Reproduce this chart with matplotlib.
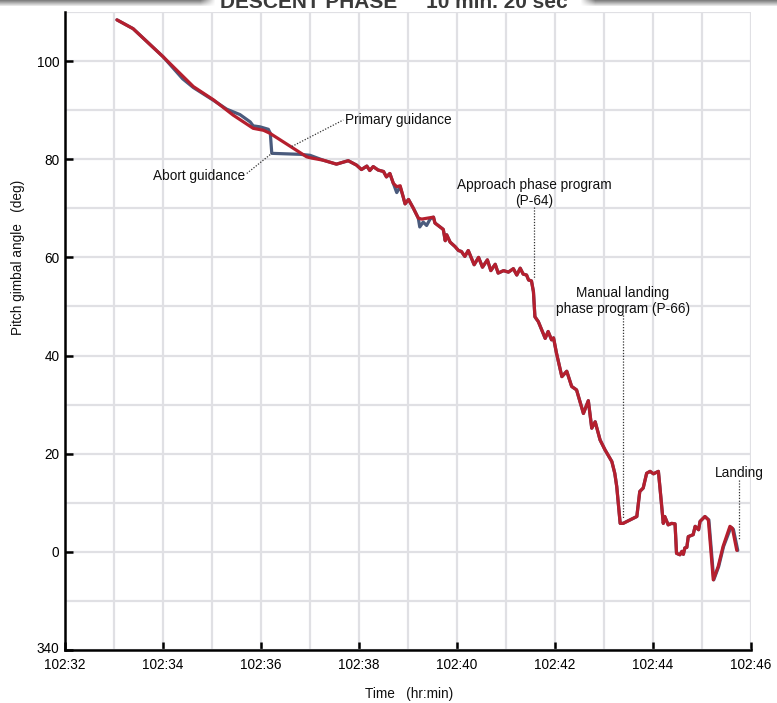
import numpy as np
import matplotlib
matplotlib.use("Agg")
import matplotlib.pyplot as plt
import matplotlib.transforms as mtransforms

plt.rcParams['font.family'] = ['Liberation Sans', 'DejaVu Sans']

# ---- data: time in minutes after 102:32, pitch gimbal angle in degrees ----
primary_t = [1.06, 1.39, 2.00, 2.62, 3.03, 3.43, 3.84, 4.05, 4.18, 4.93, 5.00, 5.27, 5.54,
             5.78, 5.95, 6.05, 6.16, 6.22, 6.29, 6.39, 6.50, 6.56, 6.63, 6.70, 6.77, 6.84,
             6.90, 6.94, 7.01, 7.11, 7.21, 7.28, 7.52, 7.55, 7.72, 7.76, 7.79, 7.86, 7.96,
             8.03, 8.09, 8.16, 8.23, 8.35, 8.44, 8.52, 8.62, 8.69, 8.78, 8.84, 8.95, 9.05,
             9.15, 9.22, 9.29, 9.35, 9.42, 9.46, 9.52, 9.56, 9.59, 9.66, 9.73, 9.80, 9.86,
             9.93, 9.97, 10.03, 10.14, 10.24, 10.34, 10.44, 10.58, 10.68, 10.75, 10.82,
             10.92, 11.02, 11.16, 11.22, 11.26, 11.33, 11.39, 11.67, 11.73, 11.80, 11.87,
             11.94, 12.01, 12.11, 12.14, 12.21, 12.24, 12.31, 12.38, 12.45, 12.48, 12.55,
             12.59, 12.62, 12.65, 12.69, 12.72, 12.82, 12.86, 12.93, 12.96, 13.06, 13.13,
             13.23, 13.33, 13.43, 13.57, 13.62, 13.71]
primary_v = [108.4, 106.6, 100.9, 94.8, 92.1, 89.0, 86.3, 85.9, 85.3, 80.5, 80.3, 79.8, 79.0,
             79.7, 78.8, 77.9, 78.6, 77.7, 78.5, 77.8, 77.5, 76.4, 77.1, 75.1, 74.4, 74.6,
             72.4, 70.9, 71.8, 70.0, 68.0, 67.8, 68.2, 67.0, 65.7, 63.4, 64.6, 63.1, 62.2,
             61.4, 61.2, 60.2, 61.4, 58.5, 60.0, 58.0, 59.5, 57.3, 58.6, 56.8, 57.3, 57.0,
             57.7, 56.4, 57.8, 56.6, 56.4, 55.4, 55.2, 53.0, 47.9, 46.9, 45.2, 43.5, 44.9,
             43.2, 43.6, 40.5, 35.7, 36.8, 33.7, 33.0, 28.2, 30.8, 25.2, 26.5,
             22.8, 20.8, 18.4, 16.0, 13.3, 5.8, 5.8, 7.2, 12.3, 13.0, 16.0,
             16.4, 15.9, 16.4, 13.3, 5.8, 7.2, 5.5, 5.8, 5.7, -0.3, -0.6,
             0.1, -0.5, 0.8, 0.9, 3.1, 3.5, 5.2, 4.5, 6.2, 7.2, 6.5,
             -5.7, -3.0, 1.1, 5.2, 4.8, 0.3]

abort_t = [1.06, 1.39, 2.00, 2.40, 2.62, 3.03, 3.30, 3.57, 3.78, 3.84, 3.98, 4.15, 4.19,
           4.22, 4.80, 5.00, 5.27, 5.54, 5.78, 5.95, 6.05, 6.16, 6.22, 6.29, 6.39, 6.50,
           6.56, 6.63, 6.70, 6.77, 6.84, 6.90, 6.94, 7.01, 7.11, 7.21, 7.24, 7.31, 7.38,
           7.45, 7.52, 7.55, 7.72, 7.76, 7.79, 7.86, 7.96, 8.03, 8.09, 8.16, 8.23, 8.35,
           8.44, 8.52, 8.62, 8.69, 8.78, 8.84, 8.95, 9.05, 9.15, 9.22, 9.29, 9.35, 9.42,
           9.46, 9.52, 9.56, 9.59, 9.66, 9.73, 9.80, 9.86, 9.93, 9.97, 10.03, 10.14,
           10.24, 10.34, 10.44, 10.58, 10.68, 10.75, 10.82, 10.92, 11.02, 11.16, 11.22,
           11.26, 11.33, 11.39, 11.67, 11.73, 11.80, 11.87, 11.94, 12.01, 12.11, 12.14,
           12.21, 12.24, 12.31, 12.38, 12.45, 12.48, 12.55, 12.59, 12.62, 12.65, 12.69,
           12.72, 12.82, 12.86, 12.93, 12.96, 13.06, 13.14, 13.24, 13.34, 13.44, 13.59,
           13.64, 13.73]
abort_v = [108.4, 106.6, 100.9, 96.4, 94.6, 92.0, 90.2, 89.1, 87.6, 86.8, 86.6, 86.1, 85.3,
           81.2, 81.0, 80.8, 79.8, 79.0, 79.7, 78.8, 77.9, 78.6, 77.7, 78.5, 77.8, 77.5,
           76.4, 77.1, 75.1, 73.2, 74.4, 72.4, 70.9, 71.8, 70.0, 68.0, 66.2, 67.2, 66.5,
           67.8, 68.2, 67.0, 65.7, 63.4, 64.6, 63.1, 62.2, 61.4, 61.2, 60.2, 61.4, 58.5,
           60.0, 58.0, 59.5, 57.3, 58.6, 56.8, 57.3, 57.0, 57.7, 56.4, 57.8, 56.6, 56.4,
           55.4, 55.2, 53.0, 47.9, 46.9, 45.2, 43.5, 44.9, 43.2, 43.6, 40.5, 35.7,
           36.8, 33.7, 33.0, 28.2, 30.8, 25.2, 26.5, 22.8, 20.8, 18.4, 16.0,
           13.3, 5.8, 5.8, 7.2, 12.3, 13.0, 16.0, 16.4, 15.9, 16.4, 13.3,
           5.8, 7.2, 5.5, 5.8, 5.7, -0.3, -0.6, 0.1, -0.5, 0.8, 0.9,
           3.1, 3.5, 5.2, 4.5, 6.2, 7.2, 6.5, -5.7, -3.0, 1.1, 5.0,
           4.6, 0.3]

x_ticks = [0, 2, 4, 6, 8, 10, 12, 14]
x_tick_labels = ["102:32", "102:34", "102:36", "102:38", "102:40", "102:42", "102:44", "102:46"]
y_ticks = [-20, 0, 20, 40, 60, 80, 100]
y_tick_labels = ["340", "0", "20", "40", "60", "80", "100"]

# annotations: (text, text x, text y, ha, line x0, y0, x1, y1)
annotations = [
    ("Primary guidance", 5.71, 87.2, "left", 4.63, 82.6, 5.68, 88.0),
    ("Abort guidance", 3.67, 75.8, "right", 3.71, 77.1, 4.22, 81.2),
    ("Approach phase program\n(P-64)", 9.57, 70.7, "center", 9.57, 70.3, 9.57, 55.5),
    ("Manual landing\nphase program (P-66)", 11.38, 48.7, "center", 11.38, 48.3, 11.38, 6.9),
    ("Landing", 13.76, 15.3, "center", 13.76, 14.6, 13.76, 2.4),
]

W, H = 777, 703
fig = plt.figure(figsize=(W / 100, H / 100), dpi=100)
ax = fig.add_axes([65 / W, 1 - 650 / H, (751 - 65) / W, (650 - 12) / H])

red = "#b51f2e"
blue = "#4a5b7d"
ax.plot(abort_t, abort_v, color=blue, lw=2.3, solid_joinstyle="round", solid_capstyle="round", zorder=3)
ax.plot(primary_t, primary_v, color=red, lw=2.3, solid_joinstyle="round", solid_capstyle="round", zorder=4)

ax.set_xlim(0, 14)
ax.set_ylim(-20, 110)
ax.set_xticks(x_ticks)
ax.set_xticklabels(x_tick_labels)
ax.set_xticks(np.arange(1, 15, 2), minor=True)
ax.set_yticks(y_ticks)
ax.set_yticklabels(y_tick_labels)
ax.set_yticks(np.arange(-10, 111, 20), minor=True)

ax.grid(which="both", color="#e0e0e4", lw=1.6)
ax.set_axisbelow(True)
for s in ["top", "right"]:
    ax.spines[s].set_visible(False)
for s in ["left", "bottom"]:
    ax.spines[s].set_linewidth(1.8)
    ax.spines[s].set_color("black")
    ax.spines[s].set_zorder(5)
ax.tick_params(which="major", direction="in", length=6, width=1.8, color="black",
               labelsize=9.8)
ax.tick_params(axis="x", which="major", pad=5.5)
ax.tick_params(axis="y", which="major", pad=4)
ax.tick_params(which="minor", length=0)
lab340 = ax.get_yticklabels()[0]
lab340.set_transform(lab340.get_transform() +
                     mtransforms.ScaledTranslation(0, 2.5 / 100, fig.dpi_scale_trans))

for txt, tx, ty, ha, x0, y0, x1, y1 in annotations:
    ax.text(tx, ty, txt, ha=ha, va="baseline", fontsize=9.8, color="#111111",
            multialignment="center", linespacing=1.2, zorder=6)
    ax.plot([x0, x1], [y0, y1], color="#333333", lw=0.9, linestyle=(0, (1, 1.3)), zorder=6)

fig.text(18 / W, 1 - 257 / H, "Pitch gimbal angle   (deg)", rotation=90, ha="center",
         va="center", fontsize=9.8, color="#111111")
fig.text(409 / W, 1 - 694 / H, "Time   (hr:min)", ha="center", va="center",
         fontsize=9.8, color="#111111")

# scanned header remnants at the very top
fig.text(220 / W, 1 - 8 / H, "DESCENT PHASE", ha="left", va="baseline", fontsize=15,
         fontweight="bold", color="#3a3a3a")
fig.text(426 / W, 1 - 8 / H, "10 min. 20 sec", ha="left", va="baseline", fontsize=15,
         fontweight="bold", color="#3a3a3a")
band = fig.add_axes([0, 1 - 6 / H, 1, 6 / H], zorder=-1)
xs = np.arange(W)
rows = np.linspace(0.5, 0.9, 6)[:, None]
strength = np.clip(np.minimum((215 - xs) / 15.0, 1), 0, 1) + np.clip(np.minimum((xs - 580) / 15.0, 1), 0, 1)
img = 1 - (1 - rows) * strength[None, :]
band.imshow(img, cmap="gray", vmin=0, vmax=1, aspect="auto", interpolation="bilinear")
band.axis("off")

fig.savefig("out.png", dpi=100)
